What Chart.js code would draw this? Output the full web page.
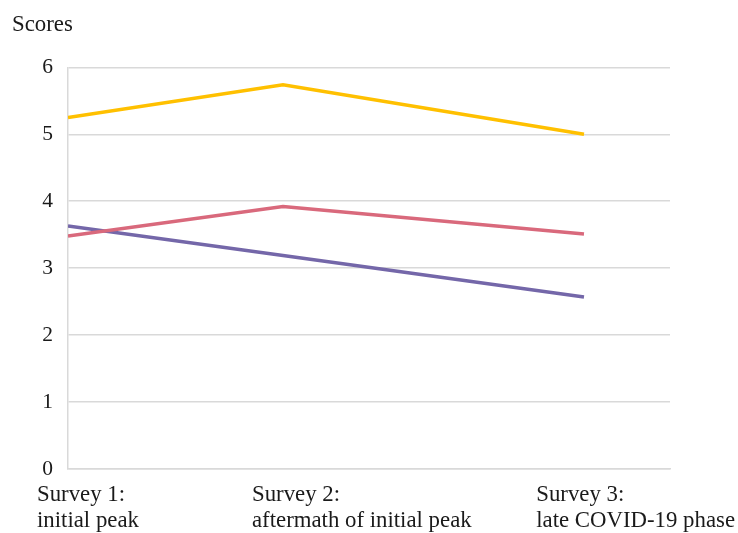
<!DOCTYPE html>
<html>
<head>
<meta charset="utf-8">
<script src="https://cdn.jsdelivr.net/npm/chart.js@4.4.0/dist/chart.umd.min.js"></script>
<style>
  html, body { margin: 0; padding: 0; background: #fff; }
  #wrap { width: 738px; height: 533px; }
</style>
</head>
<body>
<div id="wrap"><canvas id="myChart"></canvas></div>
<script>
// survey timing (months after first survey)
const surveyMonths = [0, 5, 12];
const surveyLabels = [
    ["Survey 1:", "initial peak"],
    ["Survey 2:", "aftermath of initial peak"],
    ["Survey 3:", "late COVID-19 phase"],
];
const yellowScores = [5.25, 5.74, 5.0];
const redScores = [3.48, 3.92, 3.51];
const purpleScores = [3.63, 3.19, 2.57];
const yTicks = [0, 1, 2, 3, 4, 5, 6];

const fontFamily = "'Liberation Serif', 'Times New Roman', serif";
const textColor = "#1a1a1a";
const gridColor = "#d9d9d9";

function toPoints(values) {
    return values.map((v, i) => ({ x: surveyMonths[i], y: v }));
}

// draws the two-line survey labels under the axis, left aligned
const surveyLabelPlugin = {
    id: "surveyLabels",
    afterDraw(chart) {
        const { ctx, scales: { x }, chartArea, width } = chart;
        ctx.save();
        ctx.font = `22.8px ${fontFamily}`;
        ctx.fillStyle = textColor;
        ctx.textAlign = "left";
        ctx.textBaseline = "alphabetic";
        surveyLabels.forEach((lines, i) => {
            const widest = Math.max(...lines.map((l) => ctx.measureText(l).width));
            let left = x.getPixelForValue(surveyMonths[i]) - 31;
            left = Math.min(left, width - widest - 3);
            lines.forEach((line, j) => {
                ctx.fillText(line, left, chartArea.bottom + 32 + j * 26);
            });
        });
        ctx.restore();
    },
};

const datasets = [
    { data: toPoints(yellowScores), borderColor: "#ffc000" },
    { data: toPoints(redScores), borderColor: "#d9697c" },
    { data: toPoints(purpleScores), borderColor: "#7467a9" },
].map((d) => ({
    ...d,
    borderWidth: 3.5,
    pointRadius: 0,
    tension: 0,
    fill: false,
}));

new Chart(document.getElementById("myChart"), {
    type: "line",
    data: { datasets },
    plugins: [surveyLabelPlugin],
    options: {
        responsive: true,
        maintainAspectRatio: false,
        animation: false,
        layout: { padding: { left: 12, right: 68, top: 0, bottom: 0 } },
        plugins: {
            legend: { display: false },
            tooltip: { enabled: false },
            title: {
                display: true,
                text: "Scores",
                align: "start",
                color: textColor,
                font: { family: fontFamily, size: 22.8, weight: "normal", lineHeight: 1.2 },
                padding: { top: 11, bottom: 29 },
            },
        },
        scales: {
            x: {
                type: "linear",
                min: 0,
                max: 14,
                grid: { display: false },
                border: { display: true, color: gridColor, width: 1.5 },
                ticks: { display: false },
                afterFit(scale) {
                    scale.height = 64;
                },
            },
            y: {
                min: 0,
                max: 6,
                afterBuildTicks(scale) {
                    scale.ticks = yTicks.map((v) => ({ value: v }));
                },
                afterFit(scale) {
                    scale.width = 56;
                },
                grid: { color: gridColor, lineWidth: 1.5, drawTicks: false },
                border: { display: true, color: gridColor, width: 1.5 },
                ticks: {
                    color: textColor,
                    padding: 15,
                    font: { family: fontFamily, size: 21.5 },
                },
            },
        },
    },
});
</script>
</body>
</html>
